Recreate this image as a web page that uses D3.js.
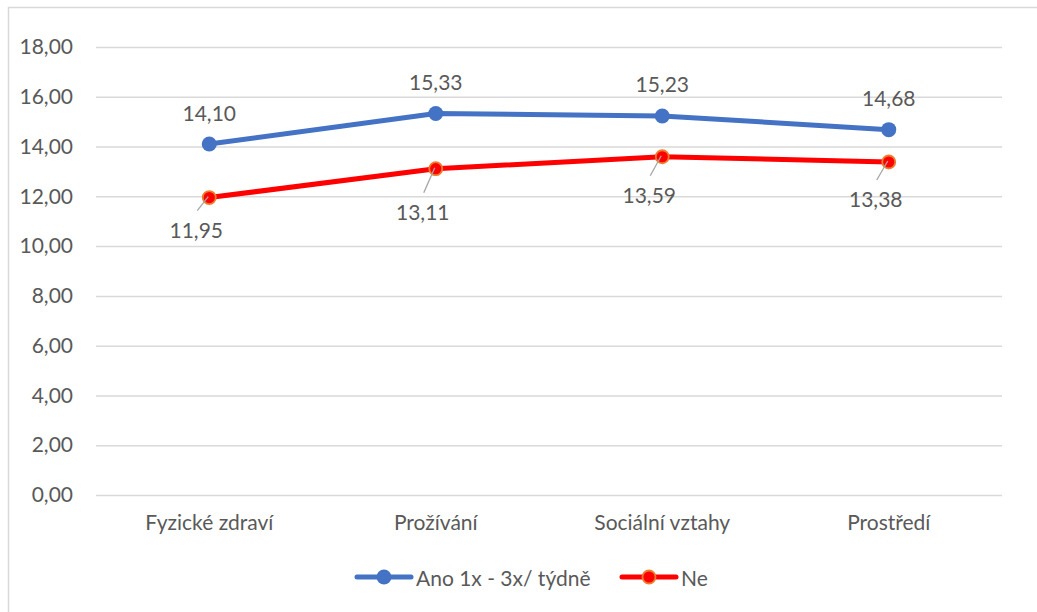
<!DOCTYPE html>
<html>
<head>
<meta charset="utf-8">
<script src="https://cdn.jsdelivr.net/npm/d3@7"></script>
<style>
  html, body { margin: 0; padding: 0; background: #fff; }
  svg { display: block; font-family: Lato, "Open Sans", sans-serif; }
</style>
</head>
<body>
<svg id="chart" width="1037" height="612"></svg>
<script>
// Domain categories and the two groups' mean scores
const categories = ["Fyzické zdraví", "Prožívání", "Sociální vztahy", "Prostředí"];
const seriesNames = ["Ano 1x - 3x/ týdně", "Ne"];
const anoValues = [14.10, 15.33, 15.23, 14.68];
const neValues = [11.95, 13.11, 13.59, 13.38];
const yTicks = [0, 2, 4, 6, 8, 10, 12, 14, 16, 18];

// Vertical nudges for the "Ne" labels (placed below their points)
const neLabelDrop = [32, 43, 38, 37];

const fmt = v => d3.format(".2f")(v).replace(".", ",");

const svg = d3.select("#chart");
const W = 1037, H = 612;
const margin = { left: 96, right: 35, top: 47, bottom: 117 };
const plotW = W - margin.left - margin.right;
const plotH = H - margin.top - margin.bottom;

const textColor = "#595959";
const fontSize = 21;

// Chart frame (left and top edges)
svg.append("rect")
  .attr("x", 8.5).attr("y", 7.5)
  .attr("width", 1100).attr("height", 700)
  .attr("fill", "none").attr("stroke", "#d9d9d9").attr("stroke-width", 1.5);

const x = d3.scaleBand().domain(categories).range([margin.left, margin.left + plotW]);
const y = d3.scaleLinear().domain([0, 18]).range([margin.top + plotH, margin.top]);
const cx = c => x(c) + x.bandwidth() / 2;

// Gridlines and y tick labels
const yAxis = d3.axisLeft(y).tickValues(yTicks).tickSize(-plotW).tickPadding(23).tickFormat(fmt);
const gy = svg.append("g").attr("transform", `translate(${margin.left},0)`).call(yAxis);
gy.select(".domain").remove();
gy.selectAll(".tick line").attr("stroke", "#d9d9d9").attr("stroke-width", 1.5);
gy.selectAll(".tick text").attr("fill", textColor).attr("font-size", fontSize)
  .attr("font-family", "Lato, 'Open Sans', sans-serif");

// Category axis labels
const xAxis = d3.axisBottom(x).tickSize(0).tickPadding(20);
const gx = svg.append("g").attr("transform", `translate(0,${margin.top + plotH})`).call(xAxis);
gx.select(".domain").remove();
gx.selectAll(".tick text").attr("fill", textColor).attr("font-size", fontSize)
  .attr("font-family", "Lato, 'Open Sans', sans-serif");

const line = d3.line().x(d => cx(d.cat)).y(d => y(d.v));
const ano = categories.map((c, i) => ({ cat: c, v: anoValues[i] }));
const ne = categories.map((c, i) => ({ cat: c, v: neValues[i] }));

const blue = "#4472c4", red = "#ff0000", orange = "#ed7d31";

// Lines
svg.append("path").datum(ano).attr("d", line)
  .attr("fill", "none").attr("stroke", blue).attr("stroke-width", 5).attr("stroke-linejoin", "round");
svg.append("path").datum(ne).attr("d", line)
  .attr("fill", "none").attr("stroke", red).attr("stroke-width", 5).attr("stroke-linejoin", "round");

// Markers
svg.selectAll(".m-ano").data(ano).join("circle")
  .attr("cx", d => cx(d.cat)).attr("cy", d => y(d.v)).attr("r", 7.5).attr("fill", blue);
svg.selectAll(".m-ne").data(ne).join("circle")
  .attr("cx", d => cx(d.cat)).attr("cy", d => y(d.v)).attr("r", 6.5)
  .attr("fill", red).attr("stroke", orange).attr("stroke-width", 1.8);

// Labels above the blue series
svg.selectAll(".l-ano").data(ano).join("text")
  .attr("x", d => cx(d.cat)).attr("y", d => y(d.v) - 32)
  .attr("text-anchor", "middle").attr("dominant-baseline", "central")
  .attr("fill", textColor).attr("font-size", fontSize)
  .text(d => fmt(d.v));

// Leader lines and labels below the red series
svg.selectAll(".leader").data(ne).join("line")
  .attr("x1", d => cx(d.cat) - 12)
  .attr("y1", (d, i) => y(d.v) + neLabelDrop[i] - 19)
  .attr("x2", d => cx(d.cat) - 1)
  .attr("y2", d => y(d.v) - 1)
  .attr("stroke", "#a6a6a6").attr("stroke-width", 1.3);
svg.selectAll(".l-ne").data(ne).join("text")
  .attr("x", d => cx(d.cat) - 13).attr("y", (d, i) => y(d.v) + neLabelDrop[i])
  .attr("text-anchor", "middle").attr("dominant-baseline", "central")
  .attr("fill", textColor).attr("font-size", fontSize)
  .text(d => fmt(d.v));

// Legend
const legend = svg.append("g").attr("transform", "translate(0,577)");
const legendItems = [
  { name: seriesNames[0], color: blue, stroke: null, r: 7.5, x0: 357 },
  { name: seriesNames[1], color: red, stroke: orange, r: 6.5, x0: 622 }
];
legendItems.forEach(it => {
  legend.append("line").attr("x1", it.x0).attr("x2", it.x0 + 54).attr("y1", 0).attr("y2", 0)
    .attr("stroke", it.color).attr("stroke-width", 5).attr("stroke-linecap", "round");
  const c = legend.append("circle").attr("cx", it.x0 + 27).attr("cy", 0).attr("r", it.r).attr("fill", it.color);
  if (it.stroke) c.attr("stroke", it.stroke).attr("stroke-width", 1.8);
  legend.append("text").attr("x", it.x0 + 59).attr("y", 0)
    .attr("dominant-baseline", "central").attr("fill", textColor).attr("font-size", fontSize)
    .text(it.name);
});
</script>
</body>
</html>
